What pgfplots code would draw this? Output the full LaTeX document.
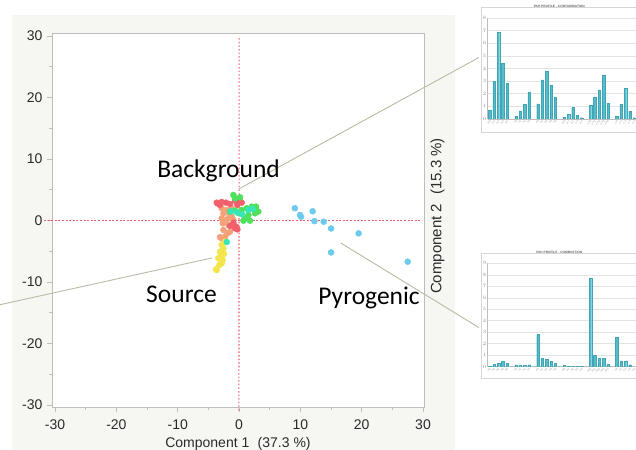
\documentclass[border=0pt]{standalone}
\usepackage{fontspec}
\setmainfont{Liberation Sans}
\newfontfamily\calibri{Carlito}
\usepackage{pgfplots}
\usepackage{pgfplotstable}
\pgfplotsset{compat=1.18}
\definecolor{panel}{HTML}{F6F6F3}
\definecolor{axisgray}{HTML}{BDBDBD}
\definecolor{tickc}{HTML}{2A2A2A}
\definecolor{refred}{HTML}{EE5E6C}
\definecolor{linkc}{HTML}{B7BDA3}
\definecolor{cred}{HTML}{F2606C}
\definecolor{corange}{HTML}{F5A27A}
\definecolor{cyellow}{HTML}{F2E64C}
\definecolor{cgreen}{HTML}{4EE25C}
\definecolor{cteal}{HTML}{36E6B8}
\definecolor{cblue}{HTML}{6CCAEE}
\definecolor{barc}{HTML}{56BCCB}
\definecolor{bardraw}{HTML}{3FA6B6}
\definecolor{gridc}{HTML}{E3E3E3}
\definecolor{framec}{HTML}{D6D6D6}

\pgfplotstableread{
x y
-3.53 2.79
-2.83 3.01
-2.12 2.90
-1.47 2.68
-0.65 3.22
0.05 3.33
0.43 2.90
-0.27 2.52
-3.10 2.52
-3.64 2.90
-0.92 -0.35
-0.49 -1.00
-0.27 -1.44
-1.47 -0.89
-0.65 -1.27
}\redpts

\pgfplotstableread{
x y
-2.83 1.98
-2.01 1.71
-1.20 1.98
-2.55 1.17
-1.58 1.06
-2.83 0.35
-2.01 0.19
-1.20 0.62
-2.66 -0.46
-1.74 -0.73
-2.55 -1.54
-1.90 -2.09
-2.28 -2.63
-1.47 -1.82
-0.92 0.08
-2.83 -2.90
-3.10 -2.70
}\orangepts

\pgfplotstableread{
x y
-2.28 -3.44
-2.83 -3.98
-2.55 -4.53
-3.10 -5.07
-2.45 -5.45
-3.37 -6.15
-2.66 -6.42
-3.21 -7.24
-3.75 -7.94
-2.83 -6.96
-2.99 -5.88
-3.64 -8.05
}\yellowpts

\pgfplotstableread{
x y
-0.92 4.15
-0.65 3.60
0.16 3.77
-1.47 1.44
-0.65 1.60
0.43 1.71
1.25 1.98
2.07 2.25
2.77 2.25
3.15 1.44
2.61 1.17
1.52 0.89
0.98 0.35
1.79 -0.03
0.71 -0.03
0.05 1.17
}\greenpts

\pgfplotstableread{
x y
-1.30 1.50
-0.30 1.30
0.50 1.00
1.50 1.70
2.20 1.90
-2.00 -3.50
}\tealpts

\pgfplotstableread{
x y
9.1 2.0
9.95 0.9
10.1 0.6
12.0 1.5
12.3 -0.1
13.8 -0.2
15.0 -1.3
19.5 -2.1
15.0 -5.2
27.5 -6.7
}\bluepts

\pgfplotstableread{
x y
0 0.70
1 3.00
2 6.90
3 4.40
4 2.80
6 0.25
7 0.65
8 1.15
9 2.10
11 1.20
12 3.10
13 3.80
14 2.70
15 1.70
17 0.15
18 0.40
19 0.90
20 0.30
21 0.10
23 1.10
24 1.75
25 2.30
26 3.50
27 1.25
29 0.25
30 1.15
31 2.45
32 0.60
33 0.10
}\insetA

\pgfplotstableread{
x y
0 0.05
1 0.20
2 0.30
3 0.45
4 0.30
6 0.15
7 0.10
8 0.10
9 0.17
11 2.80
12 0.75
13 0.65
14 0.45
15 0.30
17 0.10
18 0.05
19 0.05
20 0.05
21 0.05
23 7.70
24 1.00
25 0.73
26 0.73
27 0.20
29 2.55
30 0.50
31 0.50
32 0.17
}\insetB

\pgfplotsset{
  insetstyle/.style={
    anchor=south west, scale only axis,
    width=157.7bp,
    xmin=-0.5, xmax=35.5, ymin=0,
    axis x line=bottom, axis y line=left,
    axis line style={-, draw=axisgray, line width=0.5bp},
    ymajorgrids, grid style={gridc, line width=0.5bp},
    major tick length=0pt,
    xtick={0,1,2,3,4,6,7,8,9,11,12,13,14,15,17,18,19,20,21,23,24,25,26,27,29,30,31,32,33},
    xticklabels={N0,N1,N2,N3,N4,F0,F1,F2,F3,P0,P1,P2,P3,P4,D0,D1,D2,D3,D4,FP0,FP1,FP2,FP3,FP4,C0,C1,C2,C3,C4},
    xticklabel style={font=\fontsize{2.6bp}{2.8bp}\selectfont, text=black!40, rotate=45, anchor=north east, inner sep=0.8bp},
    yticklabel style={font=\fontsize{2.4bp}{2.6bp}\selectfont, text=black!45, inner sep=1bp},
    title style={font=\bfseries\fontsize{3.2bp}{3.6bp}\selectfont, text=black!60, at={(axis description cs:0.455,1)}, anchor=south, yshift=0.5bp},
  },
  dots/.style={only marks, mark=*, mark size=3.0bp, color=#1, mark options={draw=#1, fill=#1, line width=0.4bp}},
}

\begin{document}
\begin{tikzpicture}
\useasboundingbox (0,0) rectangle (636bp,450bp);
\fill[white] (0,0) rectangle (636bp,450bp);
\fill[panel] (12bp,0) rectangle (455bp,435bp);

% inset frames
\filldraw[fill=white, draw=framec, line width=0.6bp] (481bp,318bp) rectangle (652bp,443bp);
\filldraw[fill=white, draw=framec, line width=0.6bp] (481bp,72bp) rectangle (652bp,197bp);

\begin{axis}[insetstyle, at={(487.5bp,331bp)}, height=101bp, ymax=8, ytick={0,...,8},
  title={PAH PROFILE - CONTAMINATION}]
\addplot[ybar, bar width=2.4bp, fill=barc, draw=bardraw, line width=0.3bp] table[x=x,y=y] {\insetA};
\end{axis}

\begin{axis}[insetstyle, at={(487.5bp,83.3bp)}, height=103.4bp, ymax=9, ytick={0,...,9},
  title={PAH PROFILE - COMBUSTION}]
\addplot[ybar, bar width=2.4bp, fill=barc, draw=bardraw, line width=0.3bp] table[x=x,y=y] {\insetB};
\end{axis}

\begin{axis}[
  at={(52bp,43bp)}, anchor=south west,
  scale only axis, width=372bp, height=374bp,
  xmin=-30.5, xmax=30.16, ymin=-30.33, ymax=30.49,
  xtick={-30,-20,...,30}, ytick={-30,-20,...,30},
  minor xtick={-25,-15,...,25}, minor ytick={-25,-15,...,25},
  tick align=outside, tick pos=left,
  major tick length=5bp, minor tick length=3bp,
  every tick/.style={draw=axisgray, line width=0.8bp},
  axis line style={draw=axisgray, line width=0.9bp},
  axis background/.style={fill=white},
  /pgf/number format/assume math mode=true,
  ticklabel style={font=\fontsize{14bp}{16bp}\selectfont, text=tickc},
  xticklabel style={yshift=-4bp},
  yticklabel style={xshift=-1bp},
  xlabel={Component 1\hspace{0.6em}(37.3 \%)},
  ylabel={Component 2\hspace{0.6em}(15.3 \%)},
  every axis x label/.style={at={(axis description cs:0.5,0)}, anchor=center, yshift=-37bp, font=\fontsize{14bp}{16bp}\selectfont, text=tickc},
  every axis y label/.style={at={(axis description cs:1,0.5)}, xshift=13.5bp, yshift=4bp, anchor=center, rotate=90, font=\fontsize{15bp}{17bp}\selectfont, text=tickc},
  clip=false,
]
% reference lines
\addplot[refred, line width=1.1bp, dash pattern=on 2bp off 1.6bp, no marks, forget plot] coordinates {(-31.8,0) (29.7,0)};
\addplot[refred, line width=1.1bp, dash pattern=on 1.6bp off 2bp, no marks, forget plot] coordinates {(-0.02,-30.9) (0.02,30.0)};

\addplot[dots=corange] table[x=x,y=y] {\orangepts};
\addplot[dots=cyellow] table[x=x,y=y] {\yellowpts};
\addplot[dots=cred] table[x=x,y=y] {\redpts};
\addplot[dots=cgreen] table[x=x,y=y] {\greenpts};
\addplot[dots=cteal] table[x=x,y=y] {\tealpts};
\addplot[dots=cblue] table[x=x,y=y] {\bluepts};

% connector lines
\draw[draw=linkc, line width=0.9bp] (axis cs:-0.05,5.12) -- (axis cs:39.1,26.5);
\draw[draw=linkc, line width=0.9bp] (axis cs:-4.45,-6.1) -- (axis cs:-39.0,-13.7);
\draw[draw=linkc, line width=0.9bp] (axis cs:16.58,-3.66) -- (axis cs:39.1,-17.4);

% group labels
\node[font=\calibri\fontsize{25.5bp}{28bp}\selectfont, anchor=base, inner sep=0pt] at (axis cs:-3.34,7.07) {Background};
\node[font=\calibri\fontsize{25.5bp}{28bp}\selectfont, anchor=base, inner sep=0pt] at (axis cs:-9.38,-13.37) {Source};
\node[font=\calibri\fontsize{25.5bp}{28bp}\selectfont, anchor=base, inner sep=0pt] at (axis cs:21.2,-13.74) {Pyrogenic};
\end{axis}
\end{tikzpicture}
\end{document}
